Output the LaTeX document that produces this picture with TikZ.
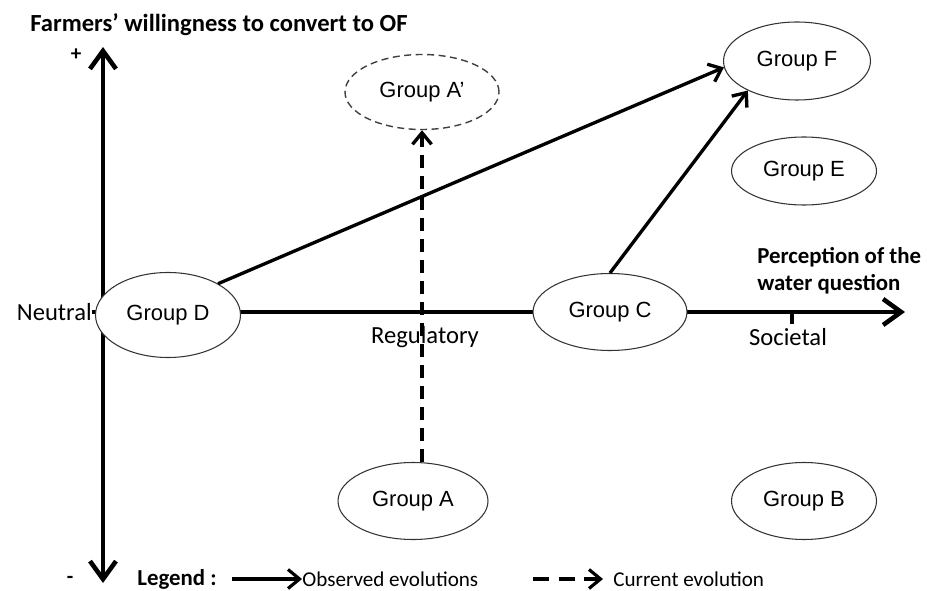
\documentclass[tikz,border=0pt]{standalone}
\usepackage{fontspec}
\setmainfont{Carlito}
\newfontfamily\grpfont{Liberation Sans}
\usepackage{tikz}
\usetikzlibrary{positioning,calc,arrows.meta,shapes.geometric}

\begin{document}
\begin{tikzpicture}[
		grp/.style={ellipse, draw=black!80, line width=0.6pt, fill=white, inner sep=0pt, minimum width=2.9cm, minimum height=1.5cm, font=\grpfont\fontsize{12.5}{14}\selectfont},
		axis/.style={line width=2.6pt, >={Straight Barb[length=3.6mm, width=5.2mm]}},
		evol/.style={line width=1.9pt, -{Straight Barb[length=2.3mm, width=3.8mm]}},
		curevol/.style={evol, dash pattern=on 2.6mm off 1.6mm},
		lbl/.style={font=\fontsize{14}{16}\selectfont},
		legtxt/.style={font=\fontsize{12}{14}\selectfont, anchor=west, inner sep=0pt},
		bold/.style={font=\bfseries\fontsize{14}{16}\selectfont}
	]
		\useasboundingbox (0,0) rectangle (18.54,11.8);
		\coordinate (Ytop) at (2.06,10.86);
		\coordinate (Ybot) at (2.06,0.14);
		\coordinate (Xleft) at (1.84,5.56);
		\coordinate (Xend) at (18.10,5.56);
		\coordinate (soc) at (15.84,5.56);
		\draw[axis,<->] (Ybot) -- (Ytop);
		\draw[axis,->] (Xleft) -- (Xend);
		\draw[line width=1.8pt] (soc) -- ++(0,-0.24);

		\node[bold, anchor=west, inner sep=0pt] (title) at (0.6,11.3) {Farmers’ willingness to convert to OF};
		\node[bold, font=\bfseries\fontsize{12}{14}\selectfont] (plus) at (1.52,10.7) {+};
		\node[bold, font=\bfseries\fontsize{12}{14}\selectfont] (minus) at (1.4,0.2) {-};
		\node[lbl, anchor=east, inner sep=0pt] (neutral) at (Xleft) {Neutral};
		\node[lbl] (reg) at (8.5,5.06) {Regulatory};
		\node[lbl] (soclbl) at (15.76,5.06) {Societal};
		\node[bold, font=\bfseries\fontsize{13}{15.5}\selectfont, anchor=west, align=left, inner sep=0pt] (perc) at (15.14,6.38) {Perception of the\\water question};

		\node[grp, minimum height=1.7cm] (D) at (3.36,5.5) {Group D};
		\node[grp, minimum width=3.08cm, minimum height=1.54cm] (C) at (12.2,5.56) {Group C};
		\node[grp, minimum width=2.94cm, minimum height=1.56cm] (F) at (15.94,10.58) {Group F};
		\node[grp, minimum height=1.36cm] (E) at (16.08,8.38) {Group E};
		\node[grp, draw=black!75, line width=0.8pt, dash pattern=on 1.4mm off 0.9mm, minimum width=3.08cm] (Ap) at (8.44,9.96) {Group A’};
		\node[grp, minimum width=3cm, minimum height=1.54cm] (A) at (8.26,1.78) {Group A};
		\node[grp, minimum height=1.54cm] (B) at (16.08,1.78) {Group B};

		\draw[evol] (D.32) -- (F.185);
		\draw[evol] (C.north) -- (F.211);
		\draw[curevol] (A.north -| Ap.south) -- (Ap.south);

		\node[bold, font=\bfseries\fontsize{13}{15}\selectfont, anchor=west, inner sep=0pt] (leg) at (2.74,0.22) {Legend :};
		\node[legtxt] (obs) at (6.04,0.22) {Observed evolutions};
		\node[legtxt] (cur) at (12.26,0.22) {Current evolution};
		\coordinate (obsfrom) at ([xshift=-1.4cm]obs.west);
		\coordinate (curfrom) at ([xshift=-1.6cm]cur.west);
		\draw[evol, line width=1.8pt] (obsfrom) -- (obs.west);
		\draw[curevol, line width=1.8pt, dash pattern=on 3.2mm off 1.9mm, shorten >=2mm] (curfrom) -- (cur.west);
	\end{tikzpicture}
\end{document}
